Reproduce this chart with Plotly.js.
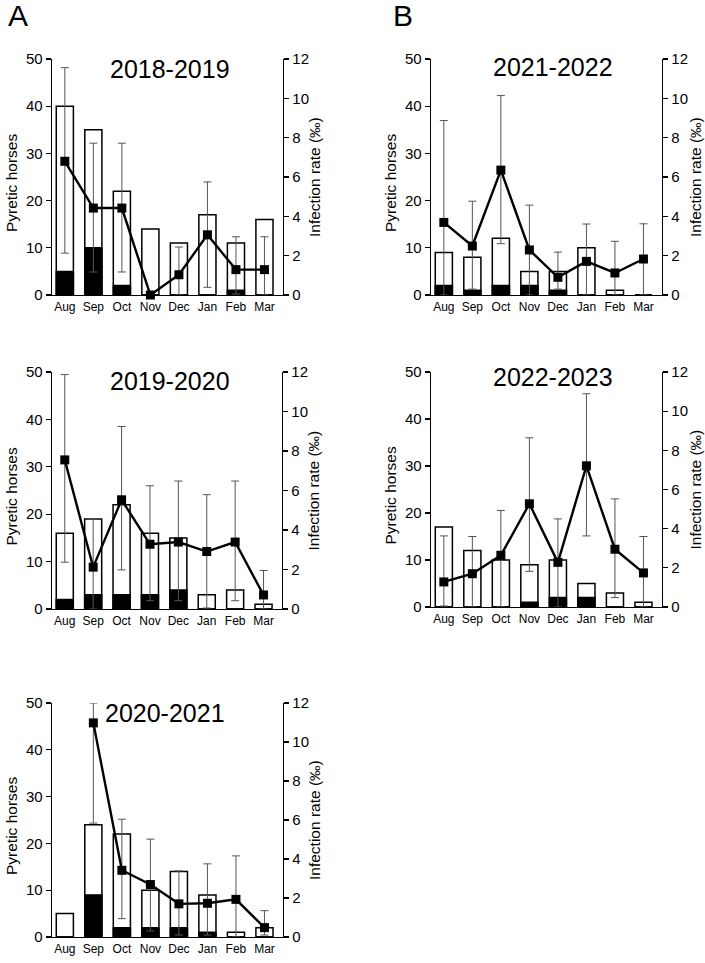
<!DOCTYPE html>
<html><head><meta charset="utf-8">
<script src="https://cdn.plot.ly/plotly-3.0.1.min.js"></script>
<style>html,body{margin:0;padding:0;background:#fff}#chart{width:705px;height:963px}</style>
</head><body><div id="chart"></div>
<script>
// ---- data ----
const months = ['Aug','Sep','Oct','Nov','Dec','Jan','Feb','Mar'];
const seasons = ['2018-2019','2019-2020','2020-2021','2021-2022','2022-2023'];

const total1819 = [40,35,22,14,11,17,11,16];
const black1819 = [5,10,2,0,0,0,1,0];
const rate1819  = [6.8,4.42,4.42,0,1.03,3.06,1.29,1.29];
const hi1819    = [11.56,7.72,7.72,null,2.44,5.75,2.96,2.96];
const lo1819    = [2.13,1.17,1.17,null,0,0.39,0.05,0];

const total1920 = [16,19,22,16,15,3,4,1];
const black1920 = [2,3,3,3,4,0,0,0];
const rate1920  = [7.55,2.12,5.53,3.28,3.39,2.91,3.39,0.71];
const hi1920    = [11.87,4.56,9.24,6.24,6.48,5.79,6.48,1.95];
const lo1920    = [2.37,0,1.98,0.42,0.42,0.05,0.42,0];

const total2021 = [5,24,22,10,14,9,1,2];
const black2021 = [0,9,2,2,2,1,0,0];
const rate2021  = [null,10.98,3.42,2.69,1.70,1.73,1.93,0.48];
const hi2021    = [null,12,6.04,5.02,3.39,3.75,4.16,1.35];
const lo2021    = [null,5.84,0.94,0.31,0.1,0.1,0,0.1];

const total2122 = [9,8,12,5,5,10,1,0];
const black2122 = [2,1,2,2,1,0,0,0];
const rate2122  = [3.69,2.49,6.35,2.29,0.90,1.71,1.12,1.83];
const hi2122    = [8.87,4.77,10.14,4.57,2.18,3.61,2.73,3.62];
const lo2122    = [0,0.3,2.61,0,0.3,0,0,0];

const total2223 = [17,12,10,9,10,5,3,1];
const black2223 = [0,0,0,1,2,2,0,0];
const rate2223  = [1.28,1.70,2.64,5.27,2.28,7.21,2.95,1.74];
const hi2223    = [3.63,3.60,4.93,8.64,4.5,10.89,5.52,3.60];
const lo2223    = [0.05,0,0,1.82,0,3.63,0.48,0];

const leftTicks = [0,10,20,30,40,50];
const rightTicks = [0,2,4,6,8,10,12];
const leftTitle = 'Pyretic horses';
const rightTitle = 'Infection rate (‰)';

const panels = [
  {name:seasons[0], total:total1819, black:black1819, rate:rate1819, hi:hi1819, lo:lo1819},
  {name:seasons[1], total:total1920, black:black1920, rate:rate1920, hi:hi1920, lo:lo1920},
  {name:seasons[2], total:total2021, black:black2021, rate:rate2021, hi:hi2021, lo:lo2021},
  {name:seasons[3], total:total2122, black:black2122, rate:rate2122, hi:hi2122, lo:lo2122},
  {name:seasons[4], total:total2223, black:black2223, rate:rate2223, hi:hi2223, lo:lo2223}
];

// ---- layout geometry (pixels) ----
const W = 705, H = 963;
const boxes = [
  {l:52, r:283, t:59,  b:295, tx:170, ty:69,  rt:31},
  {l:52, r:282, t:372, b:609, tx:170, ty:381, rt:31},
  {l:52, r:283, t:703, b:937, tx:165, ty:713, rt:31},
  {l:431,r:662, t:59,  b:295, tx:553, ty:67,  rt:33},
  {l:431,r:662, t:372, b:607, tx:553, ty:377, rt:33}
];
const FONT = 'Liberation Sans, Arial, sans-serif';

const traces = [];
const layout = {
  width: W, height: H,
  margin: {l:0, r:0, t:0, b:0},
  paper_bgcolor: '#fff', plot_bgcolor: 'rgba(0,0,0,0)',
  showlegend: false,
  barmode: 'overlay',
  font: {family: FONT, color: '#000', size: 15},
  annotations: []
};

const px = x => x / W;
const py = y => 1 - y / H;

panels.forEach((p, i) => {
  const b = boxes[i];
  const n = i + 1;
  const xa = n === 1 ? 'x' : 'x' + n;
  const yl = n === 1 ? 'y' : 'y' + n;
  const yr = 'y' + (n + 5);
  const xKey = n === 1 ? 'xaxis' : 'xaxis' + n;
  const ylKey = n === 1 ? 'yaxis' : 'yaxis' + n;
  const yrKey = 'yaxis' + (n + 5);

  traces.push({
    type: 'bar', x: months, y: p.total, xaxis: xa, yaxis: yl, width: 0.6,
    marker: {color: '#fff', line: {color: '#000', width: 1.5}}, hoverinfo: 'none'
  });
  traces.push({
    type: 'bar', x: months, y: p.black, xaxis: xa, yaxis: yl, width: 0.6,
    marker: {color: '#000', line: {color: '#000', width: 1.5}}, hoverinfo: 'none'
  });
  const plus = p.rate.map((v, k) => (v === null || p.hi[k] === null) ? NaN : p.hi[k] - v);
  const minus = p.rate.map((v, k) => (v === null || p.lo[k] === null) ? NaN : v - p.lo[k]);
  traces.push({
    type: 'scatter', mode: 'lines+markers', x: months, y: p.rate, xaxis: xa, yaxis: yr,
    line: {color: '#000', width: 2.4},
    marker: {symbol: 'square', size: 9, color: '#000'},
    error_y: {type: 'data', symmetric: false, array: plus, arrayminus: minus,
              color: '#555', thickness: 1, width: 4},
    connectgaps: false, cliponaxis: false, hoverinfo: 'none'
  });

  layout[xKey] = {
    domain: [px(b.l), px(b.r)], anchor: yl, type: 'category',
    categoryorder: 'array', categoryarray: months,
    range: [-0.45, 7.65], showline: true, linecolor: '#000', linewidth: 1.3,
    ticks: '', showgrid: false, zeroline: false, fixedrange: true,
    tickfont: {size: 12, family: FONT, color: '#000'}
  };
  layout[ylKey] = {
    domain: [py(b.b), py(b.t)], anchor: xa, range: [0, 50],
    tickvals: leftTicks, ticktext: leftTicks.map(String),
    showline: true, linecolor: '#000', linewidth: 1.3,
    ticks: 'outside', ticklen: 5, tickwidth: 1.3, tickcolor: '#000',
    showgrid: false, zeroline: false, fixedrange: true,
    tickfont: {size: 15, family: FONT, color: '#000'}
  };
  layout[yrKey] = {
    overlaying: yl, side: 'right', anchor: xa, range: [0, 12],
    tickvals: rightTicks, ticktext: rightTicks.map(String),
    showline: true, linecolor: '#000', linewidth: 1.3,
    ticks: 'outside', ticklen: 5, tickwidth: 1.3, tickcolor: '#000',
    showgrid: false, zeroline: false, fixedrange: true,
    tickfont: {size: 15, family: FONT, color: '#000'}
  };

  const mid = (b.t + b.b) / 2;
  layout.annotations.push({
    xref: 'paper', yref: 'paper', x: px(b.tx), y: py(b.ty), text: p.name,
    showarrow: false, xanchor: 'center', yanchor: 'middle',
    font: {size: 25, family: FONT, color: '#000'}
  });
  layout.annotations.push({
    xref: 'paper', yref: 'paper', x: px(b.l - 41), y: py(mid + 6), text: leftTitle,
    showarrow: false, textangle: -90, xanchor: 'center', yanchor: 'middle',
    font: {size: 15.5, family: FONT, color: '#000'}
  });
  layout.annotations.push({
    xref: 'paper', yref: 'paper', x: px(b.r + b.rt), y: py(mid), text: rightTitle,
    showarrow: false, textangle: -90, xanchor: 'center', yanchor: 'middle',
    font: {size: 15.5, family: FONT, color: '#000'}
  });
});

layout.annotations.push({xref:'paper', yref:'paper', x: px(17.5), y: py(16), text:'A',
  showarrow:false, xanchor:'center', yanchor:'middle', font:{size:30, family:FONT, color:'#000'}});
layout.annotations.push({xref:'paper', yref:'paper', x: px(403), y: py(15), text:'B',
  showarrow:false, xanchor:'center', yanchor:'middle', font:{size:30, family:FONT, color:'#000'}});

Plotly.newPlot('chart', traces, layout, {staticPlot: true, displayModeBar: false});
</script>
</body></html>
